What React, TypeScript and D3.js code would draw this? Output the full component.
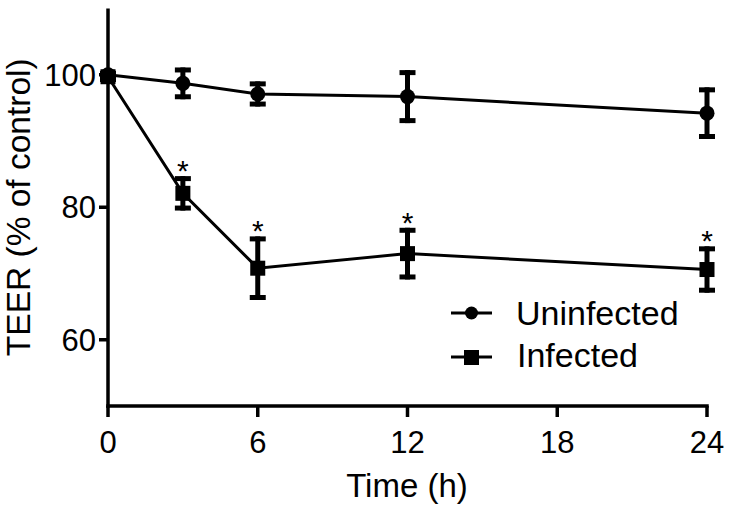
import React from "react";
import * as d3 from "d3";

const times = [0, 3, 6, 12, 24];
const uninfectedMean = [100, 98.7, 97.1, 96.7, 94.2];
const uninfectedErr = [0.6, 2.4, 1.9, 4.0, 3.9];
const infectedMean = [99.7, 82.1, 70.8, 73.0, 70.6];
const infectedErr = [0.8, 2.6, 4.8, 3.9, 3.5];
const infectedSig = [false, true, true, true, true];
const xTicks = [0, 6, 12, 18, 24];
const yTicks = [60, 80, 100];

const W = 733;
const H = 508;
const FONT = "'Liberation Sans', Arial, sans-serif";

export default function App() {
  const x = d3.scaleLinear().domain([0, 24]).range([108, 707]);
  const y = d3.scaleLinear().domain([50, 110]).range([406, 8.5]);
  const line = d3
    .line<number>()
    .x((_, i) => x(times[i]))
    .y((d) => y(d));

  const errBars = (means: number[], errs: number[], key: string) =>
    means.map((m, i) => {
      const cx = x(times[i]);
      const top = y(m + errs[i]);
      const bot = y(m - errs[i]);
      return (
        <g key={key + i}>
          <line x1={cx} x2={cx} y1={top} y2={bot} stroke="#000" strokeWidth={5} />
          <line x1={cx - 8} x2={cx + 8} y1={top + 2.5} y2={top + 2.5} stroke="#000" strokeWidth={5} />
          <line x1={cx - 8} x2={cx + 8} y1={bot - 2.5} y2={bot - 2.5} stroke="#000" strokeWidth={5} />
        </g>
      );
    });

  return (
    <svg width={W} height={H} style={{ position: "absolute", left: 0, top: 0, background: "#fff" }} fontFamily={FONT}>
      <rect width={W} height={H} fill="#fff" />
      {/* axes */}
      <line x1={x(0)} x2={x(0)} y1={y(110)} y2={y(50) + 1.75} stroke="#000" strokeWidth={3.5} />
      <line x1={x(0) - 1.75} x2={x(24) + 1.75} y1={y(50)} y2={y(50)} stroke="#000" strokeWidth={3.5} />
      {xTicks.map((t) => (
        <g key={"xt" + t}>
          <line x1={x(t)} x2={x(t)} y1={y(50)} y2={y(50) + 11} stroke="#000" strokeWidth={3.5} />
          <text x={x(t)} y={453} textAnchor="middle" fontSize={31}>
            {t}
          </text>
        </g>
      ))}
      {yTicks.map((t) => (
        <g key={"yt" + t}>
          <line x1={x(0) - 9} x2={x(0)} y1={y(t)} y2={y(t)} stroke="#000" strokeWidth={3.5} />
          <text x={96} y={y(t) + 11} textAnchor="end" fontSize={31}>
            {t}
          </text>
        </g>
      ))}
      <text x={407} y={497} textAnchor="middle" fontSize={33}>
        Time (h)
      </text>
      <text transform={`translate(30,${y(80)}) rotate(-90)`} textAnchor="middle" fontSize={33.5}>
        TEER (% of control)
      </text>

      {/* series lines */}
      <path d={line(uninfectedMean) || ""} fill="none" stroke="#000" strokeWidth={3} />
      <path d={line(infectedMean) || ""} fill="none" stroke="#000" strokeWidth={3} />
      {errBars(uninfectedMean, uninfectedErr, "u")}
      {errBars(infectedMean, infectedErr, "i")}
      {uninfectedMean.map((m, i) => (
        <circle key={"c" + i} cx={x(times[i])} cy={y(m)} r={7.5} fill="#000" />
      ))}
      {infectedMean.map((m, i) => (
        <rect key={"s" + i} x={x(times[i]) - 7.5} y={y(m) - 7.5} width={15} height={15} fill="#000" />
      ))}
      {infectedMean.map((m, i) =>
        infectedSig[i] ? (
          <text key={"st" + i} x={x(times[i])} y={y(m + infectedErr[i]) + 5} textAnchor="middle" fontSize={30}>
            *
          </text>
        ) : null
      )}

      {/* legend */}
      <line x1={451} x2={492} y1={313} y2={313} stroke="#000" strokeWidth={3} />
      <circle cx={471.5} cy={313} r={6.5} fill="#000" />
      <text x={516} y={325} fontSize={34}>
        Uninfected
      </text>
      <line x1={451} x2={492} y1={357} y2={357} stroke="#000" strokeWidth={3} />
      <rect x={464} y={350} width={15} height={15} fill="#000" />
      <text x={517} y={367} fontSize={34}>
        Infected
      </text>
    </svg>
  );
}
